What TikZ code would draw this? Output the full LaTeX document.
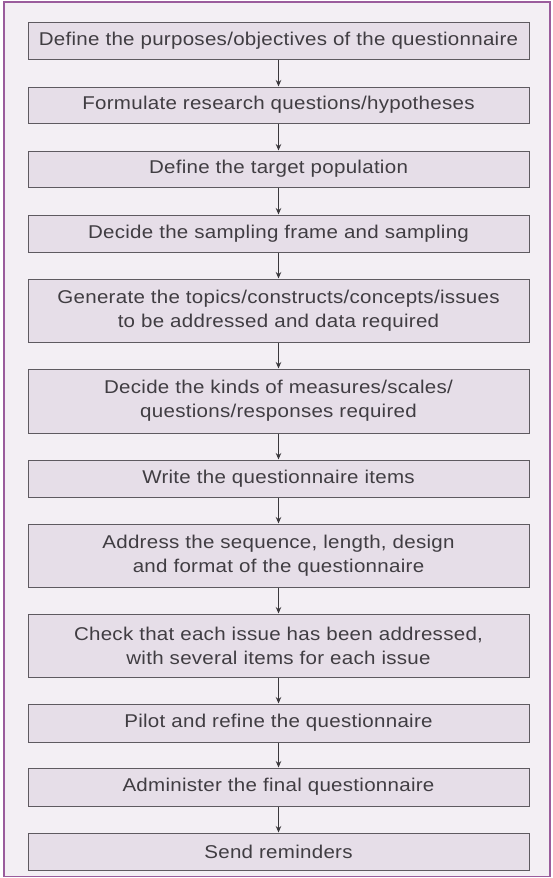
\documentclass[tikz,border=0pt]{standalone}
\usepackage{fontspec}
\setmainfont{Liberation Sans}[FakeStretch=1.11, LetterSpace=1.5]
\usetikzlibrary{arrows.meta}
\definecolor{framec}{HTML}{9A5C9C}
\definecolor{bgc}{HTML}{F3EFF4}
\definecolor{boxc}{HTML}{E6DEE8}
\definecolor{edgec}{HTML}{5E5A60}
\definecolor{arrc}{HTML}{3A383C}
\definecolor{txtc}{HTML}{403D42}
\tikzset{
  stepbox/.style={draw=edgec, line width=1pt, fill=boxc, minimum width=501pt, inner sep=0pt,
     align=center, text=txtc, font=\fontsize{18.5}{24}\selectfont},
  flow/.style={draw=arrc, line width=0.9pt, -{Stealth[length=6.5pt,width=5.5pt]}}
}
\begin{document}
\begin{tikzpicture}[x=1pt,y=-1pt]
\useasboundingbox (0,0) rectangle (553,878);
\draw[framec, line width=1.6pt, fill=bgc] (4,2) rectangle (550,876.5);
\node[stepbox, minimum height=37pt] (b1) at (278.5,40.5) {Define the purposes/objectives of the questionnaire};
\node[stepbox, minimum height=36pt] (b2) at (278.5,105) {Formulate research questions/hypotheses};
\node[stepbox, minimum height=36pt] (b3) at (278.5,169) {Define the target population};
\node[stepbox, minimum height=37pt] (b4) at (278.5,233.5) {Decide the sampling frame and sampling};
\node[stepbox, minimum height=63pt] (b5) at (278.5,310.5) {Generate the topics/constructs/concepts/issues\\to be addressed and data required};
\node[stepbox, minimum height=64pt] (b6) at (278.5,401) {Decide the kinds of measures/scales/\\questions/responses required};
\node[stepbox, minimum height=37pt] (b7) at (278.5,478.5) {Write the questionnaire items};
\node[stepbox, minimum height=63pt] (b8) at (278.5,555.5) {Address the sequence, length, design\\and format of the questionnaire};
\node[stepbox, minimum height=63pt] (b9) at (278.5,645.5) {Check that each issue has been addressed,\\with several items for each issue};
\node[stepbox, minimum height=38pt] (b10) at (278.5,723) {Pilot and refine the questionnaire};
\node[stepbox, minimum height=38pt] (b11) at (278.5,787) {Administer the final questionnaire};
\node[stepbox, minimum height=37pt] (b12) at (278.5,851.5) {Send reminders};
\foreach \a/\b in {b1/b2,b2/b3,b3/b4,b4/b5,b5/b6,b6/b7,b7/b8,b8/b9,b9/b10,b10/b11,b11/b12}
  \draw[flow] (\a.south) -- (\b.north);
\end{tikzpicture}
\end{document}
